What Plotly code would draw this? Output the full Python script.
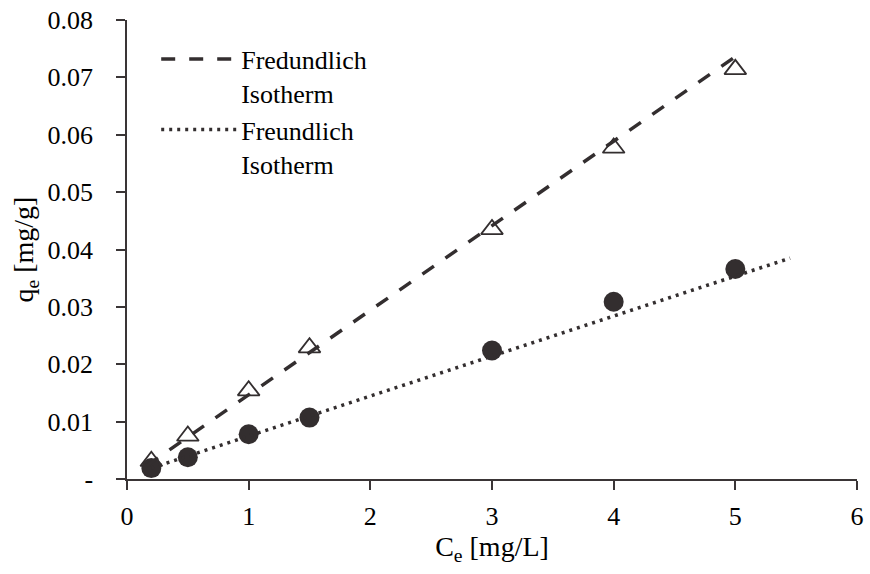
import plotly.graph_objects as go

# Data
ce = [0.2, 0.5, 1.0, 1.5, 3.0, 4.0, 5.0]
q_tri = [0.0031, 0.0075, 0.0154, 0.0229, 0.0435, 0.0577, 0.0714]
q_circ = [0.0019, 0.0038, 0.0078, 0.0107, 0.0224, 0.0309, 0.0366]

# Trendline end points
fit1_x = [0.16, 5.0]
fit1_y = [0.0023, 0.0736]
fit2_x = [0.2, 5.45]
fit2_y = [0.0019, 0.0385]

x_ticks = [0, 1, 2, 3, 4, 5, 6]
y_ticks = [0, 0.01, 0.02, 0.03, 0.04, 0.05, 0.06, 0.07, 0.08]
y_text = ["-", "0.01", "0.02", "0.03", "0.04", "0.05", "0.06", "0.07", "0.08"]

C = "#332e2f"
FONT = "Liberation Serif"


def f(size):
    return dict(family=FONT, size=size, color="#000000")


fig = go.Figure()
fig.add_trace(go.Scatter(x=ce, y=q_tri, mode="markers", showlegend=False,
                         marker=dict(symbol="triangle-up-open", size=19,
                                     color=C, line=dict(width=1.8, color=C))))
fig.add_trace(go.Scatter(x=ce, y=q_circ, mode="markers", showlegend=False,
                         marker=dict(symbol="circle", size=20, color=C)))
fig.add_trace(go.Scatter(x=fit1_x, y=fit1_y, mode="lines",
                         name="Fredundlich<br>Isotherm",
                         line=dict(color=C, width=3.5, dash="14px,14px")))
fig.add_trace(go.Scatter(x=fit2_x, y=fit2_y, mode="lines",
                         name="Freundlich<br>Isotherm",
                         line=dict(color=C, width=3.5, dash="3px,5px")))

fig.update_layout(
    width=870, height=574,
    margin=dict(l=127, r=6, t=18, b=95),
    paper_bgcolor="white", plot_bgcolor="white",
    font=f(26),
    legend=dict(x=0.04, y=0.966, xanchor="left", yanchor="top", valign="top",
                bgcolor="rgba(0,0,0,0)", itemwidth=75, borderwidth=0,
                font=f(26), tracegroupgap=2),
    xaxis=dict(range=[0, 6], tickvals=x_ticks, showgrid=False, zeroline=False,
               showline=True, linecolor="#3a3536", linewidth=1.5,
               ticks="outside", ticklen=9, tickwidth=1.5, tickcolor="#3a3536",
               ticklabelstandoff=4, ticklabeloverflow="allow",
               tickfont=f(26),
               title=dict(text="C<sub>e</sub> [mg/L]", standoff=6, font=f(28))),
    yaxis=dict(range=[0, 0.08], tickvals=y_ticks, ticktext=y_text,
               showgrid=False, zeroline=False,
               showline=True, linecolor="#3a3536", linewidth=1.5,
               ticks="outside", ticklen=9, tickwidth=1.5, tickcolor="#3a3536",
               ticklabelstandoff=18,
               tickfont=f(26),
               title=dict(text="q<sub>e</sub> [mg/g]", standoff=6, font=f(28))),
)

fig.write_html("out.html")
